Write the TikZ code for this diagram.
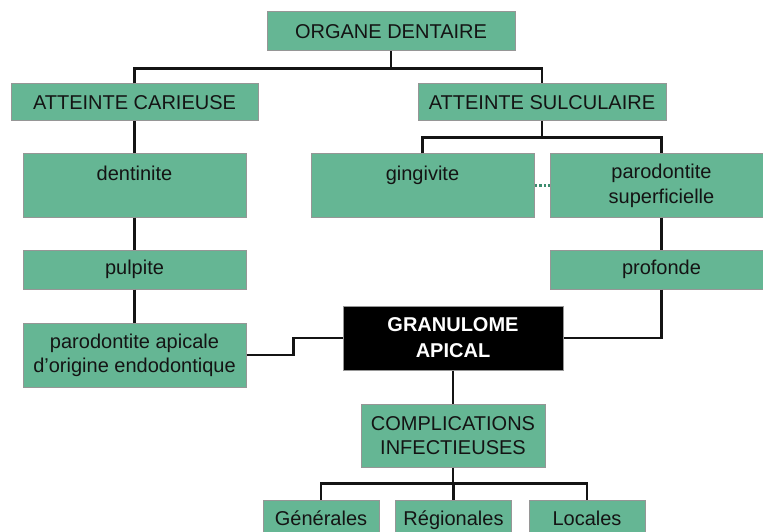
\documentclass[tikz,border=0pt]{standalone}
\usepackage{fontspec}
\setmainfont{Liberation Sans}
\usepackage{tikz}
\tikzset{>=latex}
\usetikzlibrary{calc}
\definecolor{sgreen}{RGB}{101, 182, 148}
\definecolor{sdot}{RGB}{60, 140, 110}
\definecolor{sgray}{RGB}{150, 150, 150}
\definecolor{sdark}{RGB}{20, 20, 20}

\begin{document}
\begin{tikzpicture}[x=1pt, y=-1pt,
    cell/.style={rectangle,draw=sgray,fill=sgreen,line width=1pt,align=center,text=sdark,inner sep=2pt,font=\fontsize{20}{25}\selectfont},
    darkcell/.style={cell,fill=black,text=white,font=\fontsize{20}{26}\selectfont\bfseries},
    leaf/.style={cell,minimum width=116,minimum height=40,text height=15,text depth=5},
    wire/.style={draw=sdark,line width=2.2pt}
  ]
  \useasboundingbox (0,0) rectangle (763,532);

  % top levels
  \node[cell,minimum width=248,minimum height=39] (organe) at (391,31.5) {ORGANE DENTAIRE};
  \node[cell,minimum width=247,minimum height=37] (carieuse) at (134.5,102.5) {ATTEINTE CARIEUSE};
  \node[cell,minimum width=248,minimum height=37] (sulculaire) at (542,102.5) {ATTEINTE SULCULAIRE};

  % left column
  \node[cell,minimum width=223,minimum height=63] (dentinite) at (134.5,185.5) {dentinite\\[-8pt]\strut};
  \node[cell,minimum width=223,minimum height=39] (pulpite) at (134.5,269.5) {pulpite};
  \node[cell,minimum width=223,minimum height=64,font=\fontsize{20}{24}\selectfont] (apicale) at (134.5,355) {parodontite apicale\\d'origine endodontique};

  % right column
  \node[cell,minimum width=223,minimum height=63] (gingivite) at (422.5,185.5) {gingivite\\[-8pt]\strut};
  \node[cell,minimum width=223,minimum height=63] (superficielle) at (661.5,185.5) {parodontite\\superficielle};
  \node[cell,minimum width=223,minimum height=39] (profonde) at (661.5,269.5) {profonde};

  % centre
  \node[darkcell,minimum width=220,minimum height=64] (granulome) at (453,338) {GRANULOME\\APICAL};
  \node[cell,minimum width=184,minimum height=63,font=\fontsize{20}{24}\selectfont] (complications) at (453,435.5) {COMPLICATIONS\\INFECTIEUSES};

  \foreach \name/\x/\txt in {generales/321/Générales, regionales/453.5/Régionales, locales/587/Locales} {
    \node[leaf] (\name) at (\x,520) {\txt};
  }

  % connectors
  \draw[wire] (organe.south) -- ++(0,17) coordinate (bus1);
  \draw[wire] (carieuse.north) |- (bus1) -| (sulculaire.north);
  \draw[wire] (sulculaire.south) -- ++(0,16) coordinate (bus2);
  \draw[wire] (gingivite.north) |- (bus2) -| (superficielle.north);
  \draw[wire] (carieuse.south) -- (dentinite.north);
  \draw[wire] (dentinite.south) -- (pulpite.north);
  \draw[wire] (pulpite.south) -- (apicale.north);
  \draw[wire] (superficielle.south) -- (profonde.north);
  \draw[sdot,line width=2.2pt,dash pattern=on 2.5pt off 2pt] (gingivite.east) -- (superficielle.west);
  \draw[wire] (apicale.east) -- ++(47,0) |- (granulome.west);
  \draw[wire] (profonde.south) |- (granulome.east);
  \draw[wire] (granulome.south) -- (complications.north);
  \draw[wire] (complications.south) -- ++(0,16) coordinate (bus3);
  \foreach \name in {generales, regionales, locales} {
    \draw[wire] (bus3) -| (\name.north);
  }

\end{tikzpicture}
\end{document}
